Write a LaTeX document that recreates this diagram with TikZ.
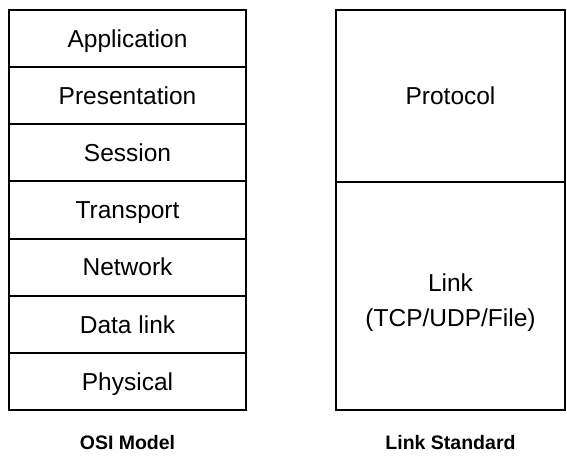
\documentclass[tikz,border=0pt]{standalone}
\usepackage{fontspec}
\setmainfont{Liberation Sans}
\usepackage{tikz}
\usetikzlibrary{positioning}

\tikzset{
  layer/.style={draw, line width=2pt, minimum width=237pt, minimum height=57.14pt,
    inner sep=0pt, text height=17.5pt, text depth=0pt, font=\fontsize{24.5}{35}\selectfont},
  stdbox/.style={draw, line width=2pt, minimum width=229pt, inner sep=0pt,
    align=center, font=\fontsize{24.5}{35}\selectfont},
  caption/.style={font=\fontsize{19.5}{22}\selectfont\bfseries}
}

\begin{document}
\begin{tikzpicture}[x=1pt,y=-1pt]
\useasboundingbox (0,0) rectangle (567,455);
% OSI stack
\node[layer] (app) at (127.5,38.57) {Application};
\node[layer] (pres) at (127.5,95.71) {Presentation};
\node[layer] (sess) at (127.5,152.86) {Session};
\node[layer] (trans) at (127.5,210) {Transport};
\node[layer] (net) at (127.5,267.14) {Network};
\node[layer] (dlink) at (127.5,324.29) {Data link};
\node[layer] (phys) at (127.5,381.43) {Physical};
% link standard
\node[stdbox, minimum height=172pt, text height=17.5pt, text depth=0pt] (proto) at (450.5,96) {Protocol};
\node[stdbox, minimum height=228pt] (link) at (450.5,296) {};
\node[align=center, font=\fontsize{24.5}{35}\selectfont] (linktxt) at (450.5,303) {Link\\(TCP/UDP/File)};
% captions
\node[caption] (osi) at (127.5,443) {OSI Model};
\node[caption] (lstd) at (450.5,443) {Link Standard};
\end{tikzpicture}
\end{document}
